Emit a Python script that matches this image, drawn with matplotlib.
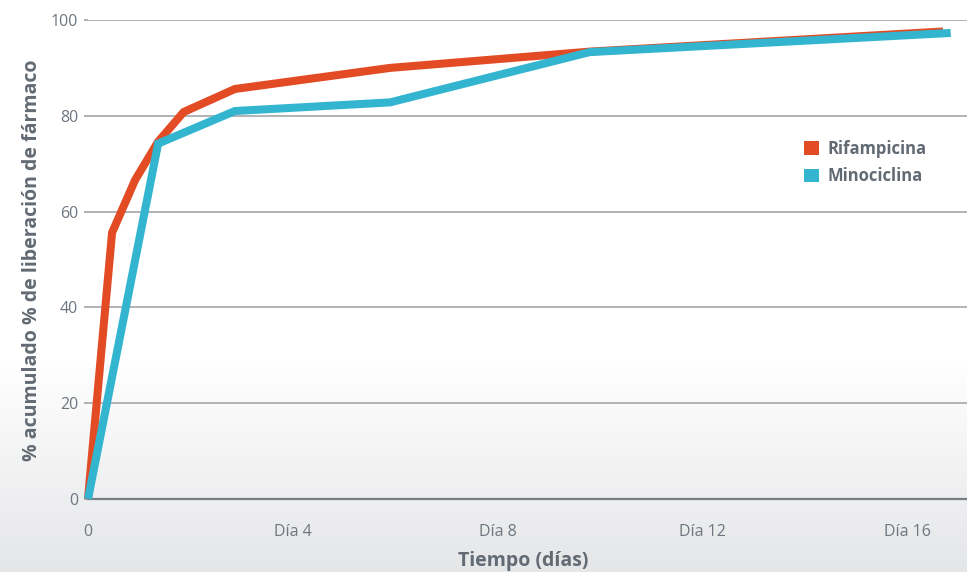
import numpy as np
import matplotlib
matplotlib.use("Agg")
import matplotlib.pyplot as plt
from matplotlib.patches import Patch

# Data (days, cumulative % released)
rif_days = [0, 0.47, 0.92, 1.37, 1.87, 2.87, 5.9, 9.8, 16.7]
rif_vals = [0, 55.6, 66.6, 74.6, 80.8, 85.6, 90.0, 93.4, 97.6]
mino_days = [0, 1.37, 2.87, 5.9, 9.8, 16.85]
mino_vals = [0, 74.2, 81.0, 82.8, 93.3, 97.3]

series_names = ["Rifampicina", "Minociclina"]
xticks = [0, 4, 8, 12, 16]
xtick_labels = ["0", "Día 4", "Día 8", "Día 12", "Día 16"]
yticks = [0, 20, 40, 60, 80, 100]

ORANGE = "#E34B24"
CYAN = "#33B5CF"
TXT = "#6E7780"
LBL = "#626A73"
GRID = "#AAADB1"

plt.rcParams['font.family'] = ['Open Sans', 'DejaVu Sans']

W, H = 967, 572
fig = plt.figure(figsize=(W / 100, H / 100), dpi=100)

# background gradient
bg = fig.add_axes([0, 0, 1, 1], zorder=-10)
rows = np.linspace(0, 1, 572)
grad = np.ones((572, 1, 3))
start = 360 / 572
for i, r in enumerate(rows):
    t = 0.0 if r < start else (r - start) / (1 - start)
    c = np.array([1.0, 1.0, 1.0]) * (1 - t) + np.array([0.898, 0.902, 0.910]) * t
    grad[i, 0, :] = c
bg.imshow(grad, aspect='auto', extent=[0, 1, 0, 1], origin='upper')
bg.axis('off')

left = 88 / W
bottom = (H - 499) / H
top = (H - 20) / H
ax = fig.add_axes([left, bottom, 1 - left, top - bottom])
ax.patch.set_alpha(0)

ppd = 51.2
ax.set_xlim(0, (W - 88) / ppd)
ax.set_ylim(0, 100)

ax.plot(rif_days, rif_vals, color=ORANGE, lw=5.8, solid_joinstyle='miter',
        solid_capstyle='butt', clip_on=False, zorder=3)
ax.plot(mino_days, mino_vals, color=CYAN, lw=5.8, solid_joinstyle='miter',
        solid_capstyle='butt', clip_on=False, zorder=4)

for s in ['top', 'right', 'left']:
    ax.spines[s].set_visible(False)
ax.spines['bottom'].set_color('#777E86')
ax.spines['bottom'].set_linewidth(1.6)
ax.spines['bottom'].set_zorder(2)

ax.set_yticks(yticks)
ax.set_yticklabels([str(v) for v in yticks])
ax.set_xticks(xticks)
ax.set_xticklabels(xtick_labels)
ax.tick_params(axis='y', length=3, color=GRID, width=1.3, pad=4,
               labelsize=11.5, labelcolor=TXT)
ax.tick_params(axis='x', length=0, pad=18, labelsize=11.5, labelcolor=TXT)

ax.yaxis.grid(True, color=GRID, lw=1.3)
ax.set_axisbelow(True)
for gl in ax.get_ygridlines():
    gl.set_zorder(1)

fig.text(523 / W, 1 - 561 / H, "Tiempo (días)", fontsize=14, fontweight='bold',
         color=LBL, ha='center', va='center')
fig.text(32 / W, 1 - 260 / H, "% acumulado % de liberación de fármaco",
         fontsize=14, fontweight='bold', color=LBL, ha='center', va='center',
         rotation=90)

handles = [Patch(facecolor=ORANGE, edgecolor='none'),
           Patch(facecolor=CYAN, edgecolor='none')]
leg = fig.legend(handles, series_names, loc='upper left',
                 bbox_to_anchor=(804 / W, 1 - 140 / H), frameon=False,
                 handlelength=0.9, handleheight=0.9, handletextpad=0.5,
                 labelspacing=0.55, borderpad=0, borderaxespad=0,
                 prop={'size': 12, 'weight': 'bold'})
for t in leg.get_texts():
    t.set_color(LBL)

fig.savefig("out.png", dpi=100)
